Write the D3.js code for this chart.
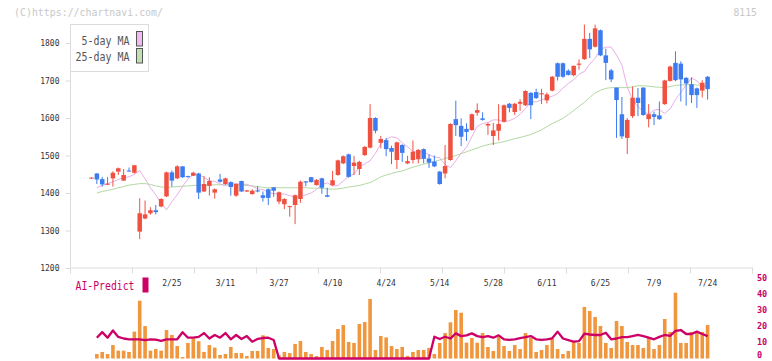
<!DOCTYPE html>
<html>
<head>
<meta charset="utf-8">
<script src="https://cdn.jsdelivr.net/npm/d3@7"></script>
<style>
  body { margin: 0; background: #fff; }
  svg { display: block; }
</style>
</head>
<body>
<svg id="chart"></svg>
<script>
// daily candles, 116 trading days
const open = [1439,1452,1437,1422,1439,1457,1433,1460,1454,1297,
  1332,1346,1354,1364,1391,1455,1439,1471,1445,1446,
  1452,1404,1419,1401,1436,1424,1429,1393,1432,1404,
  1397,1407,1394,1410,1415,1377,1370,1363,1368,1384,
  1431,1442,1421,1439,1394,1421,1448,1479,1503,1472,
  1464,1501,1521,1600,1534,1541,1520,1488,1528,1479,
  1488,1490,1517,1492,1484,1457,1452,1488,1597,1579,
  1571,1568,1614,1599,1580,1552,1566,1590,1638,1616,
  1638,1634,1667,1669,1663,1647,1673,1746,1746,1726,
  1714,1742,1757,1811,1790,1834,1767,1727,1681,1610,
  1547,1605,1654,1681,1597,1610,1607,1637,1699,1747,
  1745,1707,1690,1679,1673,1710]
const high = [1442,1453,1443,1443,1458,1468,1464,1468,1475,1386,
  1380,1362,1368,1386,1457,1460,1474,1472,1446,1457,
  1454,1445,1442,1412,1451,1441,1431,1425,1433,1408,
  1410,1418,1404,1412,1416,1404,1386,1366,1396,1433,
  1432,1443,1437,1441,1414,1459,1489,1500,1505,1499,
  1486,1525,1637,1602,1552,1547,1526,1537,1530,1499,
  1540,1517,1519,1503,1500,1459,1528,1586,1646,1599,
  1586,1612,1639,1615,1587,1587,1637,1636,1640,1640,
  1650,1674,1669,1678,1678,1668,1712,1748,1748,1730,
  1740,1756,1849,1827,1849,1836,1785,1731,1681,1656,
  1600,1684,1680,1682,1637,1617,1644,1702,1740,1778,
  1751,1709,1708,1681,1701,1712]
const low = [1438,1424,1417,1421,1417,1448,1432,1457,1452,1277,
  1330,1342,1343,1362,1389,1417,1437,1440,1441,1445,
  1384,1403,1393,1385,1428,1422,1393,1390,1403,1403,
  1396,1402,1377,1368,1390,1370,1357,1337,1317,1374,
  1418,1428,1420,1398,1389,1419,1446,1477,1441,1448,
  1448,1499,1519,1559,1519,1498,1477,1464,1483,1477,
  1479,1479,1479,1467,1469,1422,1439,1486,1552,1525,
  1539,1566,1606,1593,1555,1528,1540,1588,1615,1608,
  1619,1632,1597,1651,1637,1639,1671,1700,1707,1713,
  1711,1729,1755,1760,1788,1765,1701,1696,1547,1544,
  1504,1600,1605,1606,1575,1581,1595,1635,1697,1698,
  1644,1633,1640,1627,1655,1649]
const close = [1441,1436,1423,1425,1454,1466,1448,1458,1474,1346,
  1343,1354,1349,1384,1455,1433,1471,1442,1443,1454,
  1401,1424,1432,1410,1430,1439,1416,1424,1404,1407,
  1406,1404,1387,1387,1406,1402,1384,1365,1394,1430,
  1428,1429,1435,1414,1390,1434,1487,1498,1443,1481,
  1483,1523,1600,1566,1544,1517,1510,1535,1507,1485,
  1510,1515,1491,1481,1471,1424,1472,1584,1581,1550,
  1563,1610,1621,1595,1584,1567,1584,1634,1627,1638,
  1643,1672,1634,1653,1666,1663,1710,1710,1710,1715,
  1739,1745,1811,1783,1839,1767,1747,1703,1648,1551,
  1595,1654,1640,1608,1610,1603,1597,1700,1737,1701,
  1703,1692,1661,1661,1694,1677]

const ma5 = [null,1414,1420,1425,1430,1436,1441,1443,1450,1460,
  1438,1414,1395,1373,1355,1377,1395,1418,1437,1449,
  1449,1442,1433,1431,1424,1419,1427,1425,1424,1423,
  1418,1411,1409,1402,1398,1398,1397,1393,1389,1390,
  1395,1400,1409,1423,1427,1419,1420,1432,1445,1450,
  1469,1478,1486,1506,1531,1543,1550,1547,1534,1523,
  1511,1509,1510,1502,1496,1494,1476,1468,1486,1506,
  1522,1550,1578,1585,1588,1595,1595,1590,1593,1599,
  1610,1625,1643,1643,1648,1654,1658,1665,1680,1692,
  1702,1717,1724,1744,1759,1783,1789,1789,1768,1741,
  1683,1649,1630,1618,1610,1621,1623,1612,1624,1649,
  1668,1688,1707,1699,1684,1682]
const ma25 = [null,1400,1404,1407,1410,1414,1417,1421,1423,1425,
  1425,1423,1419,1416,1415,1416,1417,1418,1419,1420,
  1421,1421,1421,1422,1422,1422,1422,1422,1421,1420,
  1419,1417,1415,1414,1414,1414,1414,1414,1414,1414,
  1414,1413,1413,1412,1411,1410,1411,1413,1416,1418,
  1420,1424,1428,1435,1443,1448,1452,1456,1459,1464,
  1469,1473,1477,1480,1484,1488,1492,1496,1500,1505,
  1510,1515,1520,1525,1529,1532,1534,1537,1541,1545,
  1548,1552,1556,1562,1568,1577,1585,1592,1599,1609,
  1620,1631,1642,1655,1667,1674,1679,1681,1681,1681,
  1681,1683,1686,1686,1685,1683,1682,1681,1684,1687,
  1688,1689,1689,1688,1687,1686]

// lower panel, read on the 0-50 scale
const volume = [null,2.8,4.1,2.8,8.4,4.9,4.9,4.1,16.8,36.1,
  20.3,4.9,5.9,4.9,17.8,14.7,7.8,0.9,9.7,12.6,
  10.8,4.1,8.4,6.8,2.2,2.8,7.2,3.4,3.4,1.6,
  4.7,4.7,14.5,6.6,5.9,2,4.1,3.4,9.1,10.9,
  4.1,2.8,1.5,7.2,5.3,10.9,18.4,20.9,10.3,9.7,
  21.6,22.8,37.2,5.3,14.1,13.2,7.8,5.9,7.2,1.6,
  4.1,5.3,5.3,6.6,2.8,9.7,15.9,22.6,30.3,28.6,
  9.9,12.8,9.9,15.9,7.2,4.7,13.4,7.8,4.7,8.4,
  5.9,15.9,12.8,4.1,5.3,8.4,12.2,5.9,2.8,4.7,
  10.9,9.7,32.2,29.7,25.9,20.3,9.7,6.6,23.4,20.3,
  10.3,8.4,8.4,6.6,13.4,5.9,8.4,24.7,16.6,41.1,
  9.7,9.7,16.6,16.6,16.6,20.9]
const aiPredict = [null,13,16.5,13,17.5,13.5,12.5,12,12,12,
  11.5,12,11.8,11,12,12,12,16.4,13,13,
  13.5,15.9,12.5,14.7,13,15.9,12,14.7,12.2,14,
  10.5,12.2,12.8,13,11.6,0,0,0,0,0,
  0,0,0,0,0,0,0,0,0,0,
  0,0,0,0,0,0,0,0,0,0,
  0,0,0,0,13.6,12.2,13.6,12.5,15.7,14,
  14.5,15.7,14,13.3,14,13,14.5,12,11.6,12,
  12.8,13.3,14,12,11.6,12,12.6,16.8,12.5,11.5,
  10.5,10.9,15.5,15,14.7,14.7,16.1,12,12.5,13.3,
  13.3,14,14.7,14,13,12,13.5,14.7,14.2,17.2,
  17.8,15.3,15.3,16.8,15.3,14]

const dateLabels = ['2/25','3/11','3/27','4/10','4/24','5/14','5/28','6/11','6/25','7/9','7/24']
const dateLabelIndex = [15,25,35,45,55,65,75,85,95,105,115]
const priceTicks = [1200,1300,1400,1500,1600,1700,1800]
const predTicks = [0,10,20,30,40,50]

const width = 772
const height = 361
const mono = "'DejaVu Sans Mono', monospace"
const UP = '#f05040'
const DOWN = '#3d7cf0'

const svg = d3.select('#chart')
  .attr('width', width)
  .attr('height', height)

const x = d3.scalePoint().domain(d3.range(close.length)).range([91.5, 707.6])
const y = d3.scaleLinear().domain([1200, 1800]).range([268, 43])
const yLow = d3.scaleLinear().domain([0, 50]).range([358.5, 278.5])
const frame = d3.scaleLinear().domain([0, 11]).range([70, 752])

function drawHeader() {
  svg.append('text')
    .attr('x', 14).attr('y', 15.5)
    .attr('font-family', mono).attr('font-size', 11)
    .attr('textLength', 149).attr('lengthAdjust', 'spacingAndGlyphs')
    .attr('fill', '#c8c8c8')
    .text('(C)https://chartnavi.com/')
  svg.append('text')
    .attr('x', 733.5).attr('y', 15.5)
    .attr('font-family', mono).attr('font-size', 11)
    .attr('textLength', 23.5).attr('lengthAdjust', 'spacingAndGlyphs')
    .attr('fill', '#c8c8c8')
    .text('8115')
}

function drawAxes() {
  const yAxis = svg.append('g')
    .attr('transform', 'translate(70.5,0)')
    .call(d3.axisLeft(y).tickValues(priceTicks).tickSize(5).tickPadding(6).tickFormat(d3.format('d')))
  yAxis.select('.domain').remove()
  yAxis.selectAll('line').attr('stroke', '#dcdcdc')
  yAxis.attr('font-family', mono).attr('font-size', 8)
  yAxis.selectAll('text').attr('fill', '#333')

  svg.append('line')
    .attr('x1', 70.5).attr('x2', 70.5)
    .attr('y1', 24).attr('y2', 268)
    .attr('stroke', '#dcdcdc')

  const xAxis = svg.append('g')
    .attr('transform', 'translate(0,267.5)')
    .call(d3.axisBottom(frame).tickValues(d3.range(12)).tickSize(6).tickFormat(''))
  xAxis.select('.domain').attr('stroke', '#dcdcdc')
  xAxis.selectAll('line').attr('stroke', '#dcdcdc')

  svg.append('g').attr('class', 'date-labels')
    .selectAll('text')
    .data(dateLabels)
    .join('text')
    .attr('x', (d, i) => x(dateLabelIndex[i]))
    .attr('y', 285.5)
    .attr('text-anchor', 'middle')
    .attr('font-family', mono).attr('font-size', 8)
    .attr('fill', '#333')
    .text(d => d)
}

function drawMovingAverages() {
  const line = d3.line()
    .defined(d => d != null)
    .x((d, i) => x(i))
  svg.append('path')
    .attr('d', line.y(d => y(d))(ma25))
    .attr('fill', 'none')
    .attr('stroke', '#b3d9a3')
    .attr('stroke-width', 1)
  svg.append('path')
    .attr('d', line.y(d => y(d))(ma5))
    .attr('fill', 'none')
    .attr('stroke', '#e6b0e6')
    .attr('stroke-width', 1)
}

function drawCandles() {
  const bodyWidth = 4.5
  const g = svg.append('g').attr('class', 'candles')
  const candles = g.selectAll('g')
    .data(close.map((c, i) => ({ i: i, o: open[i], h: high[i], l: low[i], c: c })))
    .join('g')
    .attr('fill', d => d.c >= d.o ? UP : DOWN)
    .attr('stroke', d => d.c >= d.o ? UP : DOWN)

  candles.append('line')
    .attr('x1', d => x(d.i)).attr('x2', d => x(d.i))
    .attr('y1', d => y(d.h)).attr('y2', d => y(d.l))
    .attr('stroke-width', 1)

  candles.append('rect')
    .attr('x', d => x(d.i) - bodyWidth / 2)
    .attr('y', d => y(Math.max(d.o, d.c)))
    .attr('width', bodyWidth)
    .attr('height', d => Math.max(1, Math.abs(y(d.o) - y(d.c))))
    .attr('stroke', 'none')
}

function drawLegend() {
  const g = svg.append('g').attr('class', 'legend')
  g.append('rect')
    .attr('x', 70.5).attr('y', 24.5)
    .attr('width', 78).attr('height', 47)
    .attr('fill', '#fff')
    .attr('stroke', '#dcdcdc')

  const items = [
    { name: '5-day MA', color: '#f0bcf0', x: 81.5, w: 48 },
    { name: '25-day MA', color: '#bfe0b0', x: 75.5, w: 54 }
  ]
  items.forEach((item, i) => {
    g.append('text')
      .attr('x', item.x).attr('y', 45 + i * 16)
      .attr('font-family', mono).attr('font-size', 12)
      .attr('textLength', item.w).attr('lengthAdjust', 'spacingAndGlyphs')
      .attr('fill', '#555')
      .text(item.name)
    g.append('rect')
      .attr('x', 136.5).attr('y', 31.5 + i * 17)
      .attr('width', 6).attr('height', 14.5)
      .attr('fill', item.color)
      .attr('stroke', '#555')
  })
}

function drawLowerPanel() {
  const g = svg.append('g').attr('class', 'lower-panel')

  g.selectAll('rect')
    .data(volume.map((v, i) => ({ i: i, v: v })).filter(d => d.v != null))
    .join('rect')
    .attr('x', d => x(d.i) - 1.8)
    .attr('y', d => yLow(d.v))
    .attr('width', 3.6)
    .attr('height', d => yLow(0) - yLow(d.v))
    .attr('fill', '#f0963c')

  const line = d3.line()
    .defined(d => d != null)
    .x((d, i) => x(i))
    .y(d => yLow(d))
  g.append('path')
    .attr('d', line(aiPredict))
    .attr('fill', 'none')
    .attr('stroke', '#cc0066')
    .attr('stroke-width', 2.3)
    .attr('stroke-linejoin', 'round')

  const rAxis = svg.append('g')
    .attr('transform', 'translate(751,0)')
    .call(d3.axisRight(yLow).tickValues(predTicks).tickSize(0).tickPadding(6))
  rAxis.select('.domain').remove()
  rAxis.attr('font-family', mono).attr('font-size', 8.5).attr('font-weight', 'bold')
  // the 0 label sits on the bottom edge, so it is lifted a little to stay inside
  rAxis.selectAll('text')
    .attr('fill', '#cc0066')
    .attr('dy', d => d === 0 ? '-0.1em' : '0.2em')

  svg.append('text')
    .attr('x', 75.5).attr('y', 290)
    .attr('font-family', mono).attr('font-size', 12)
    .attr('textLength', 59).attr('lengthAdjust', 'spacingAndGlyphs')
    .attr('fill', '#cc0066')
    .text('AI-Predict')
  svg.append('rect')
    .attr('x', 142.5).attr('y', 277.5)
    .attr('width', 6).attr('height', 15)
    .attr('fill', '#cc0066')
}

drawHeader()
drawAxes()
drawMovingAverages()
drawCandles()
drawLegend()
drawLowerPanel()
</script>
</body>
</html>
